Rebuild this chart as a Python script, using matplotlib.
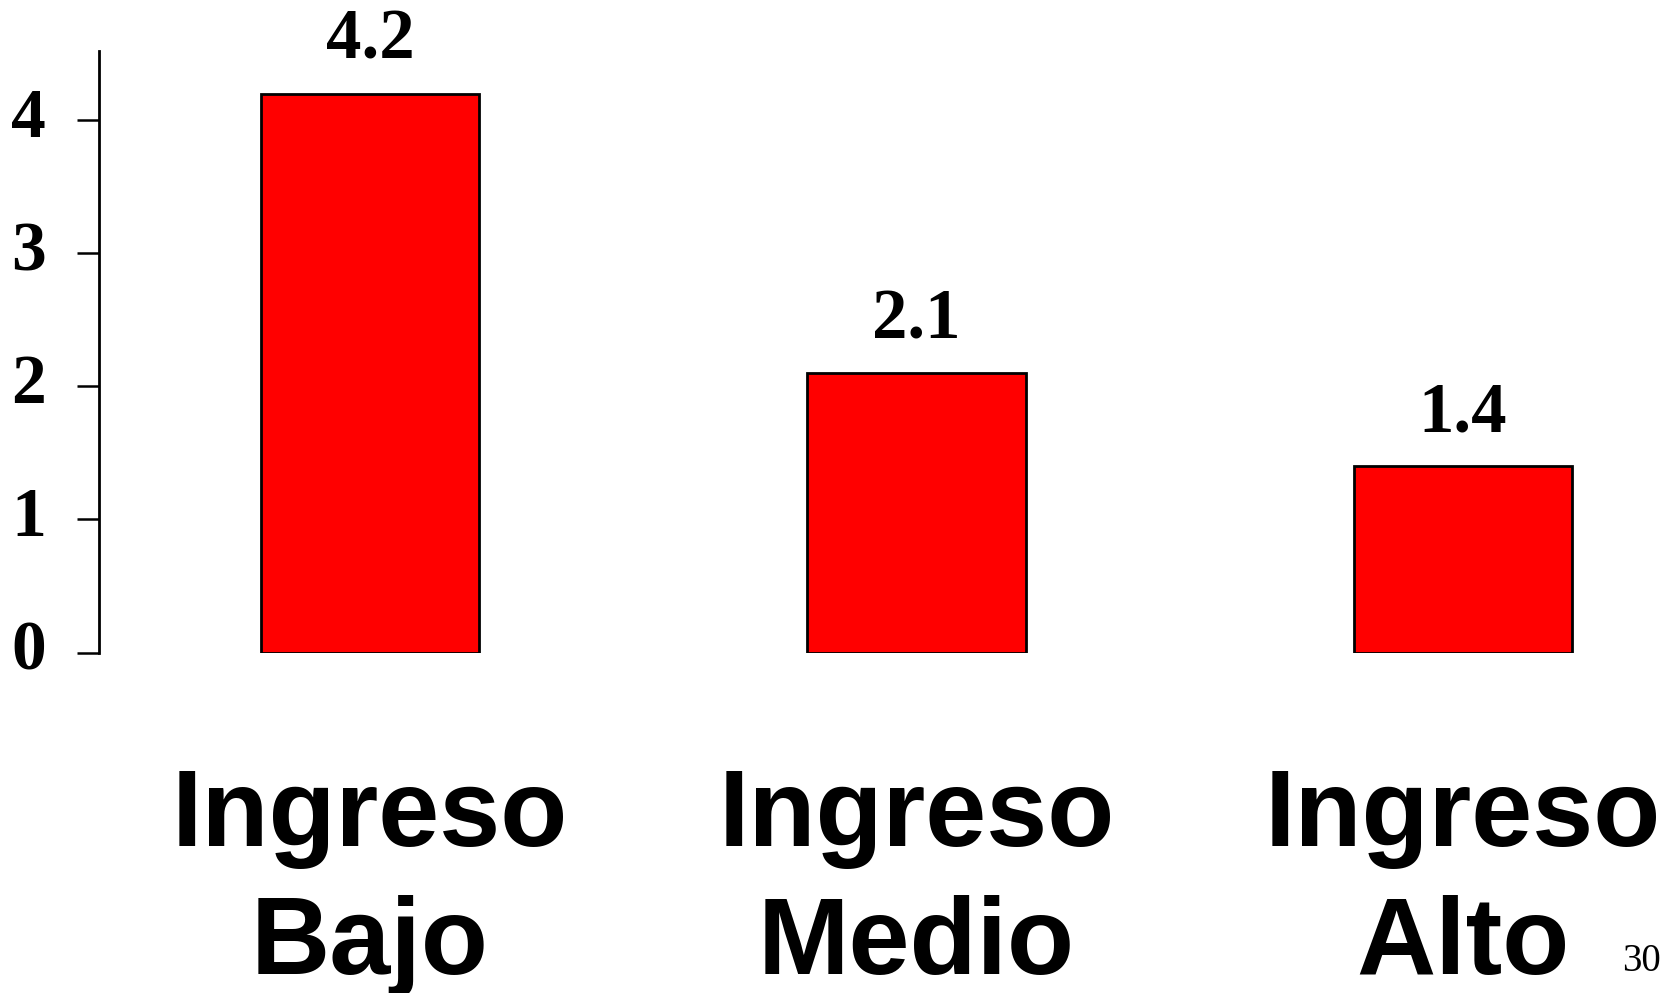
import numpy as np
import matplotlib
matplotlib.use("Agg")
import matplotlib.pyplot as plt
import matplotlib.transforms as mtransforms

# data
categories = ["Ingreso\nBajo", "Ingreso\nMedio", "Ingreso\nAlto"]
values = [4.2, 2.1, 1.4]
value_labels = ["4.2", "2.1", "1.4"]
y_ticks = [0, 1, 2, 3, 4]
page_number = "30"

fig = plt.figure(figsize=(16.69, 9.93), dpi=100)
ax = fig.add_axes([99 / 1669, (993 - 652.5) / 993, (1669 - 99) / 1669, (652.5 - 51) / 993])

x = np.arange(len(categories))
ax.bar(x, values, width=0.4, color="#ff0000", edgecolor="black", linewidth=2)

ax.set_xlim(-0.4956, 2.377)
ax.set_ylim(0, 4.52)

# R-style axis: only left line
for s in ["top", "right", "bottom"]:
    ax.spines[s].set_visible(False)
ax.spines["left"].set_linewidth(2)
ax.spines["left"].set_bounds(0, 4.52)

ax.set_xticks([])
ax.set_yticks(y_ticks)
ax.set_yticklabels([str(t) for t in y_ticks], fontfamily="Liberation Serif",
                   fontweight="bold", fontsize=50, va="center")
ax.tick_params(axis="y", length=16, width=1.8, pad=22)

# value labels over the bars
for xi, v, lab in zip(x, values, value_labels):
    ax.text(xi, v + 0.26, lab, ha="center", va="baseline",
            fontfamily="Liberation Serif", fontweight="bold", fontsize=51)

# category labels, two lines each
trans = mtransforms.blended_transform_factory(ax.transData, fig.transFigure)
line_y = [(993 - 846) / 993, (993 - 974) / 993]
for xi, cat in zip(x, categories):
    for ly, part in zip(line_y, cat.split("\n")):
        ax.text(xi, ly, part, transform=trans, ha="center", va="baseline",
                fontfamily="Liberation Sans", fontweight="bold", fontsize=79,
                clip_on=False)

fig.text(1641 / 1669, 22 / 993, page_number, ha="center", va="baseline",
         fontfamily="Liberation Serif", fontsize=28)

fig.savefig("out.png", dpi=100)
